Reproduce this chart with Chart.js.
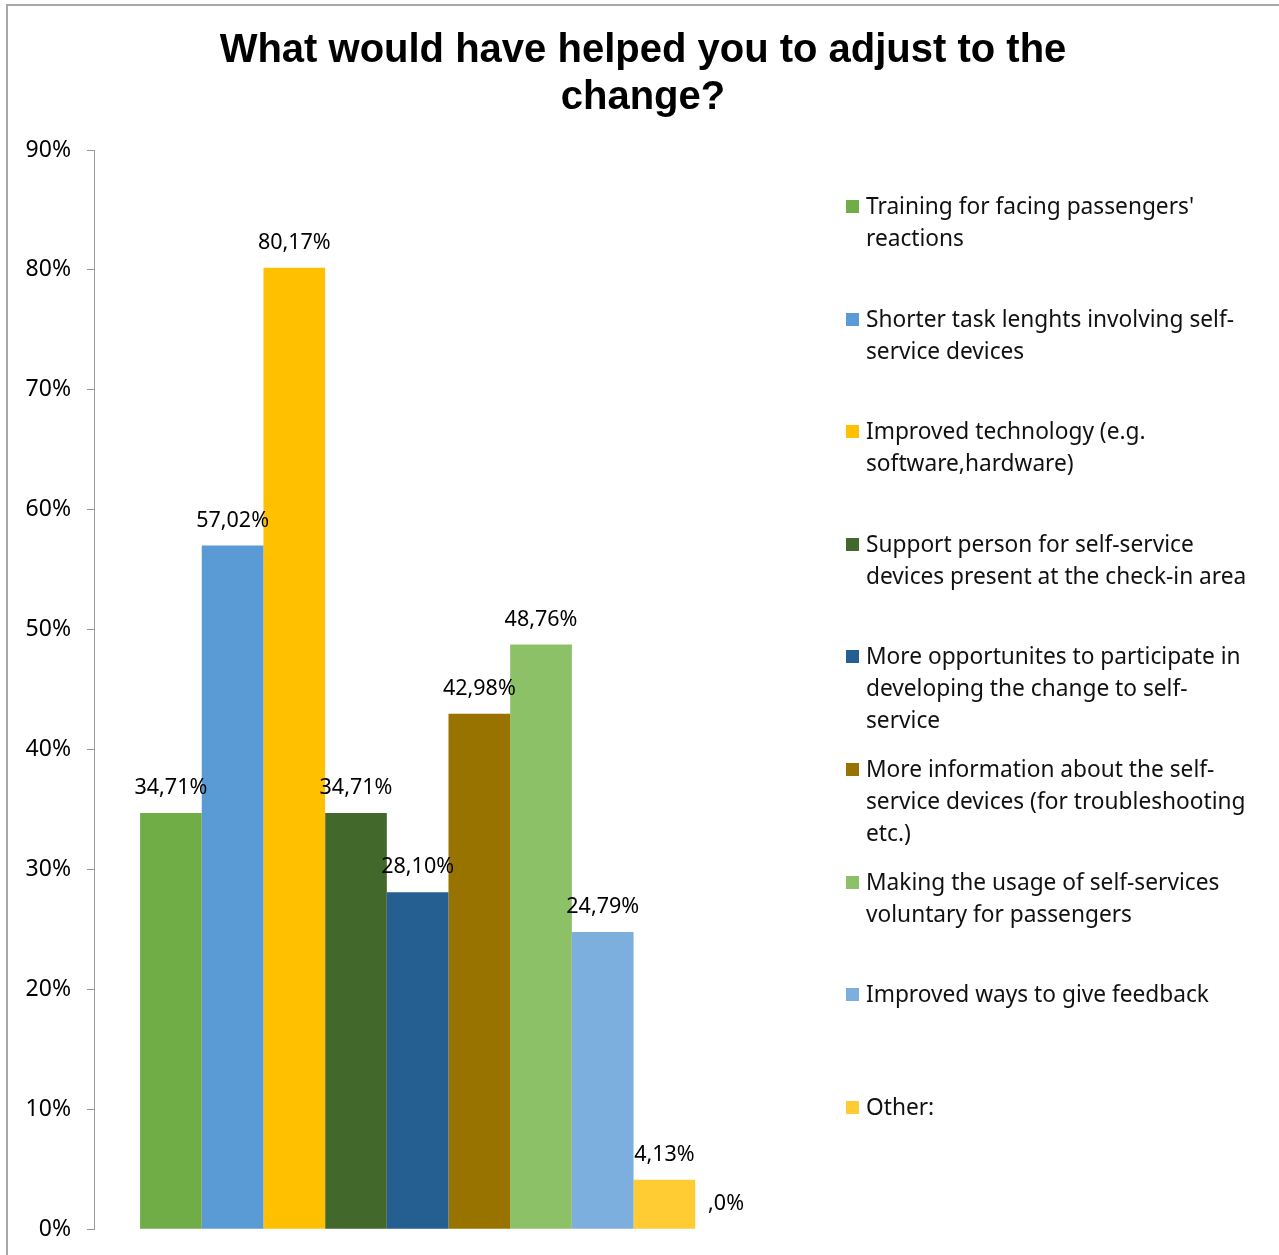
<!DOCTYPE html>
<html>
<head>
<meta charset="utf-8">
<script src="https://cdn.jsdelivr.net/npm/chart.js@4.4.1/dist/chart.umd.min.js"></script>
<style>
html,body{margin:0;padding:0;background:#fff;overflow:hidden;}
#wrap{position:relative;width:1279px;height:1255px;overflow:hidden;}
#frame{position:absolute;left:6px;top:4px;width:1400px;height:1400px;border-top:2px solid #a8a8a8;border-left:2px solid #a8a8a8;box-sizing:border-box;pointer-events:none;}
#title{position:absolute;left:0;top:25px;width:1286px;text-align:center;font-family:"Liberation Sans",Arial,sans-serif;font-weight:bold;font-size:40px;line-height:47px;color:#000;}
#legend{position:absolute;left:846px;top:190px;font-family:"Noto Sans",sans-serif;font-size:22.7px;line-height:32px;color:#111;}
.item{position:absolute;left:0;width:430px;white-space:nowrap;}
.box{position:absolute;left:0;top:10px;width:13px;height:13px;}
.txt{position:absolute;left:20px;top:0;}
</style>
</head>
<body>
<div id="wrap">
<canvas id="chart"></canvas>
<div id="title"></div>
<div id="legend"></div>
<div id="frame"></div>
</div>
<script>
const titleLines = ["What would have helped you to adjust to the","change?"];
const categories = [""];
const seriesNames = [
["Training for facing passengers'","reactions"],
["Shorter task lenghts involving self-","service devices"],
["Improved technology (e.g.","software,hardware)"],
["Support person for self-service","devices present at the check-in area"],
["More opportunites to participate in","developing the change to self-","service"],
["More information about the self-","service devices (for troubleshooting","etc.)"],
["Making the usage of self-services","voluntary for passengers"],
["Improved ways to give feedback"],
["Other:"],
null
];
const seriesValues = [34.71, 57.02, 80.17, 34.71, 28.10, 42.98, 48.76, 24.79, 4.13, 0];
const seriesColors = ["#70AD47","#5B9BD5","#FFC000","#43682B","#255E91","#997300","#8CC168","#7CAFDD","#FFCD33","#264478"];
const yMax = 90;
const yStep = 10;

function fmt(v){
if(v===0) return ",0%";
return v.toFixed(2).replace(".",",")+"%";
}

/* value labels above bars */
const valueLabels = {
id:"valueLabels",
afterDatasetsDraw(chart){
const ctx = chart.ctx;
ctx.save();
ctx.font = "21.5px 'Noto Sans'";
ctx.fillStyle = "#000";
ctx.textAlign = "center";
ctx.textBaseline = "middle";
chart.data.datasets.forEach((ds,i)=>{
const meta = chart.getDatasetMeta(i);
meta.data.forEach((bar,j)=>{
ctx.fillText(fmt(ds.data[j]), bar.x, bar.y-25);
});
});
ctx.restore();
}
};

const datasets = seriesValues.map((v,i)=>({
label: seriesNames[i] ? seriesNames[i].join(" ") : "",
data:[v],
backgroundColor: seriesColors[i],
borderWidth:0
}));

document.getElementById("title").innerHTML = titleLines.join("<br>");

const ctx = document.getElementById("chart");
ctx.width = 1279;
ctx.height = 1259;

new Chart(ctx,{
type:"bar",
data:{labels:categories,datasets:datasets},
options:{
responsive:false,
animation:false,
layout:{padding:{left:6,right:476,top:150,bottom:23}},
datasets:{bar:{categoryPercentage:0.87,barPercentage:1}},
plugins:{
legend:{display:false},
tooltip:{enabled:false},
title:{display:false}
},
scales:{
x:{display:false},
y:{
min:0,
max:yMax,
afterFit:(s)=>{ s.width = 88; },
ticks:{
stepSize:yStep,
padding:16,
color:"#000",
font:{family:"'Noto Sans'",size:23},
callback:(v)=> v+"%"
},
grid:{drawOnChartArea:false,tickLength:7,color:"#999"},
border:{color:"#999",width:1}
}
}
},
plugins:[valueLabels]
});

/* legend */
const legendDiv = document.getElementById("legend");
seriesNames.forEach((name,i)=>{
if(!name) return;
const item = document.createElement("div");
item.className="item";
item.style.top = (i*112.6)+"px";
item.innerHTML = `<div class="box" style="background:${seriesColors[i]}"></div><div class="txt">${name.join("<br>")}</div>`;
legendDiv.appendChild(item);
});
</script>
</body>
</html>
